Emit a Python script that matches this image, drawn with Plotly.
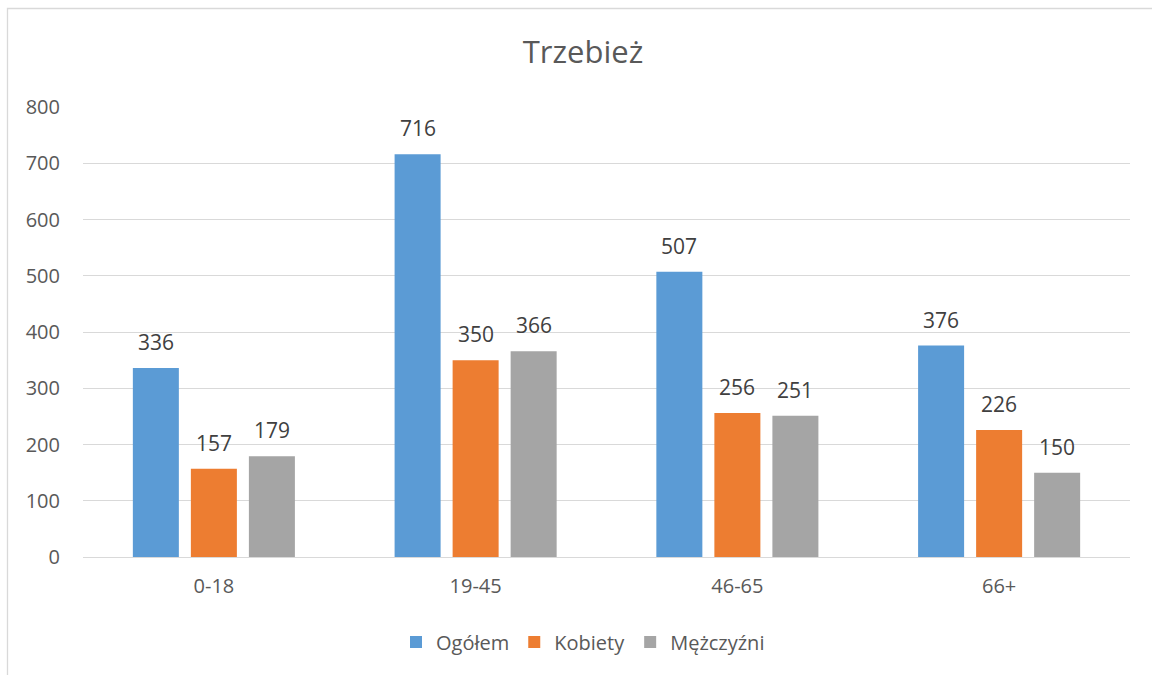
import plotly.graph_objects as go

categories = ["0-18", "19-45", "46-65", "66+"]
ogolem = [336, 716, 507, 376]
kobiety = [157, 350, 256, 226]
mezczyzni = [179, 366, 251, 150]
series_names = ["Ogółem", "Kobiety", "Mężczyźni"]
colors = ["#5B9BD5", "#ED7D31", "#A5A5A5"]
y_ticks = [0, 100, 200, 300, 400, 500, 600, 700, 800]

BARGAP = 0.335
BARGROUPGAP = 0.207
FONT = "Open Sans"

fig = go.Figure()
all_series = [ogolem, kobiety, mezczyzni]
for name, vals, col in zip(series_names, all_series, colors):
    fig.add_trace(go.Bar(
        x=categories, y=vals, name=name, marker_color=col,
        marker_line_width=0,
    ))

# data labels placed above bars via annotations (positions from data + bar layout)
slot = (1 - BARGAP) / len(all_series)
annotations = []
for si, vals in enumerate(all_series):
    off = (si - (len(all_series) - 1) / 2) * slot
    for ci, v in enumerate(vals):
        annotations.append(dict(
            x=ci + off, y=v, xref="x", yref="y", text=str(v), showarrow=False,
            yanchor="bottom", xanchor="center", yshift=10,
            font=dict(size=21, color="#404040", family=FONT),
        ))

W, H = 1152, 675
L, R, T, B = 83, 22, 107, 118
pw = W - L - R
ph = H - T - B

def px_to_paper_x(px):
    return (px - L) / pw

def py_to_paper_y(py):
    return (H - B - py) / ph

fig.update_layout(
    width=W, height=H,
    margin=dict(l=L, r=R, t=T, b=B),
    paper_bgcolor="white", plot_bgcolor="white",
    font=dict(family=FONT, color="#595959"),
    title=dict(text="Trzebież", x=583 / W, xref="container", xanchor="center",
               y=1 - 52 / H, yref="container", yanchor="middle",
               font=dict(size=31, color="#595959")),
    barmode="group", bargap=BARGAP, bargroupgap=BARGROUPGAP,
    showlegend=True,
    legend=dict(orientation="h", x=583 / W, xref="container", xanchor="center",
                y=1 - 642 / H, yref="container", yanchor="middle",
                font=dict(size=20, color="#595959"), itemwidth=30,
                traceorder="normal"),
    xaxis=dict(showgrid=False, showline=False, ticks="", tickfont=dict(size=20, color="#595959"),
               ticklabelstandoff=15),
    yaxis=dict(range=[0, 800], tickvals=y_ticks, showgrid=True, gridcolor="#D9D9D9",
               gridwidth=1.3, zeroline=True, zerolinecolor="#D9D9D9", zerolinewidth=1.3,
               tickfont=dict(size=20, color="#595959"), ticklabelstandoff=22),
    annotations=annotations,
    shapes=[dict(type="rect", xref="paper", yref="paper",
                 x0=px_to_paper_x(7.5), x1=px_to_paper_x(1200),
                 y0=py_to_paper_y(720), y1=py_to_paper_y(8.5),
                 line=dict(color="#D9D9D9", width=1.3), fillcolor="rgba(0,0,0,0)",
                 layer="below")],
)

fig.write_html("out.html", config={"displayModeBar": False},
               post_script="document.body.style.margin='0';document.body.style.overflow='hidden';")
